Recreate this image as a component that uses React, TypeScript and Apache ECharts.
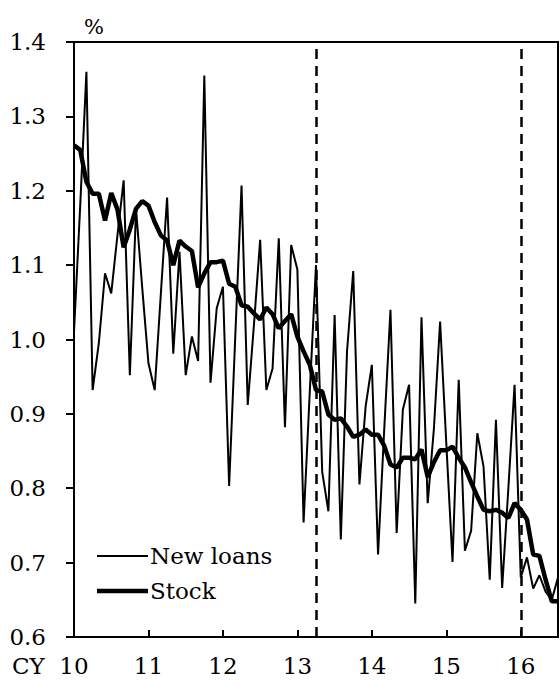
import React, { useEffect, useRef } from "react";
import * as echarts from "echarts";

// Monthly categories Jan 2010 - Jul 2016
const months: string[] = [];
for (let y = 2010; y <= 2016; y++) {
  for (let m = 1; m <= 12; m++) {
    if (y === 2016 && m > 7) break;
    months.push(`${y}-${String(m).padStart(2, "0")}`);
  }
}

const seriesNames = ["New loans", "Stock"];

const newLoans = [
  1.01, 1.18, 1.36, 0.932, 0.995, 1.089, 1.062, 1.14, 1.214, 0.952, 1.175, 1.069,
  0.968, 0.932, 1.062, 1.191, 0.981, 1.118, 0.952, 1.004, 0.971, 1.355, 0.942, 1.042,
  1.071, 0.803, 1.006, 1.207, 0.912, 1.02, 1.134, 0.932, 0.961, 1.136, 0.882, 1.127,
  1.094, 0.754, 0.93, 1.1, 0.822, 0.769, 1.033, 0.731, 0.984, 1.092, 0.805, 0.91,
  0.966, 0.711, 0.88, 1.04, 0.74, 0.906, 0.939, 0.645, 1.03, 0.78, 0.88, 1.024,
  0.86, 0.701, 0.946, 0.716, 0.743, 0.874, 0.829, 0.677, 0.892, 0.666, 0.8, 0.939,
  0.68, 0.707, 0.665, 0.683, 0.661, 0.65, 0.68,
];

const stock = [
  1.261, 1.255, 1.212, 1.196, 1.196, 1.16, 1.197, 1.175, 1.124, 1.148, 1.176, 1.186,
  1.18, 1.158, 1.14, 1.133, 1.1, 1.133, 1.125, 1.119, 1.07, 1.089, 1.104, 1.104,
  1.106, 1.075, 1.071, 1.046, 1.044, 1.035, 1.027, 1.043, 1.034, 1.015, 1.025, 1.034,
  1.004, 0.984, 0.966, 0.932, 0.93, 0.899, 0.892, 0.894, 0.883, 0.869, 0.872, 0.879,
  0.872, 0.872, 0.857, 0.832, 0.828, 0.841, 0.841, 0.839, 0.852, 0.815, 0.835, 0.851,
  0.851, 0.856, 0.841, 0.828, 0.808, 0.789, 0.771, 0.769, 0.771, 0.767, 0.76, 0.78,
  0.771, 0.758, 0.711, 0.709, 0.677, 0.648, 0.648,
];

const markMonths = ["2013-04", "2016-01"];

const FONT = "DejaVu Serif";
const FS = 23;

export default function App() {
  const ref = useRef<HTMLDivElement>(null);

  useEffect(() => {
    if (!ref.current) return;
    const chart = echarts.init(ref.current, null, { renderer: "svg" });
    const yearTick = (idx: number) => idx % 12 === 0;
    chart.setOption({
      animation: false,
      backgroundColor: "#fff",
      textStyle: { fontFamily: FONT, color: "#000" },
      grid: {
        left: 74,
        right: 2,
        top: 42,
        bottom: 49,
        show: true,
        borderColor: "#000",
        borderWidth: 2,
        backgroundColor: "transparent",
      },
      xAxis: {
        type: "category",
        data: months,
        boundaryGap: false,
        axisLine: { lineStyle: { color: "#000", width: 2 } },
        axisTick: {
          inside: true,
          length: 7,
          interval: yearTick,
          lineStyle: { color: "#000", width: 2 },
        },
        axisLabel: {
          interval: yearTick,
          margin: 17,
          fontSize: FS,
          fontFamily: FONT,
          color: "#000",
          formatter: (v: string) => v.slice(2, 4),
        },
        splitLine: { show: false },
      },
      yAxis: {
        type: "value",
        min: 0.6,
        max: 1.4,
        interval: 0.1,
        axisLine: { show: true, lineStyle: { color: "#000", width: 2 } },
        axisTick: { show: true, inside: false, length: 8, lineStyle: { color: "#000", width: 2 } },
        axisLabel: {
          margin: 28,
          fontSize: FS,
          fontFamily: FONT,
          color: "#000",
          formatter: (v: number) => v.toFixed(1),
        },
        splitLine: { show: false },
      },
      series: [
        {
          name: seriesNames[0],
          type: "line",
          data: newLoans,
          symbol: "none",
          lineStyle: { color: "#000", width: 2 },
          z: 2,
          markLine: {
            silent: true,
            symbol: "none",
            label: { show: false },
            lineStyle: { color: "#000", width: 2.5, type: [10, 7] },
            emphasis: { disabled: true },
            data: markMonths.map((m) => ({ xAxis: m })),
          },
        },
        {
          name: seriesNames[1],
          type: "line",
          data: stock,
          symbol: "none",
          lineStyle: { color: "#000", width: 4.5 },
          z: 3,
        },
      ],
      graphic: [
        {
          type: "text",
          left: 12,
          top: 654,
          style: { text: "CY", fontSize: FS, fontFamily: FONT, fill: "#000" },
        },
        {
          type: "text",
          left: 84,
          top: 16,
          style: { text: "%", fontSize: 21, fontFamily: FONT, fill: "#000" },
        },
        {
          type: "line",
          shape: { x1: 97, y1: 556, x2: 148, y2: 556 },
          style: { stroke: "#000", lineWidth: 2 },
        },
        {
          type: "text",
          x: 150,
          y: 556,
          style: { text: seriesNames[0], fontSize: FS, fontFamily: FONT, fill: "#000", verticalAlign: "middle" },
        },
        {
          type: "line",
          shape: { x1: 97, y1: 591, x2: 148, y2: 591 },
          style: { stroke: "#000", lineWidth: 4.5 },
        },
        {
          type: "text",
          x: 150,
          y: 591,
          style: { text: seriesNames[1], fontSize: FS, fontFamily: FONT, fill: "#000", verticalAlign: "middle" },
        },
      ],
    });
    return () => chart.dispose();
  }, []);

  return (
    <div
      ref={ref}
      style={{ position: "fixed", left: 0, top: 0, width: 560, height: 686, background: "#fff" }}
    />
  );
}
